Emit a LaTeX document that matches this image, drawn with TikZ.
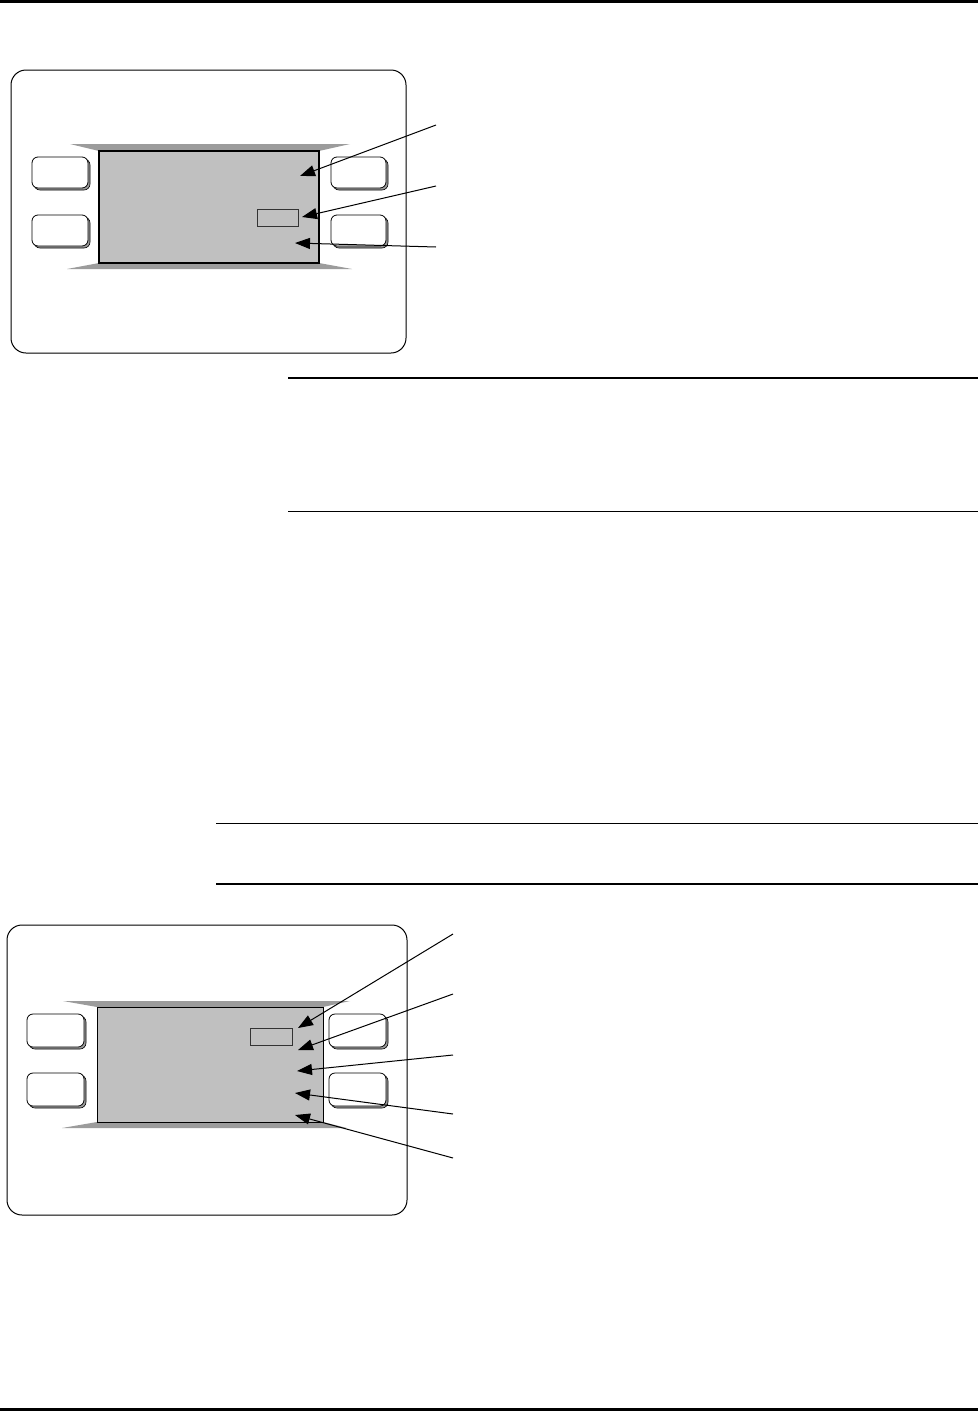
\documentclass[tikz,border=0pt]{standalone}
\usepackage{xcolor}
\usepackage{tikz}
\usetikzlibrary{shapes,arrows.meta,positioning,shadows}
\definecolor{lcdgray}{HTML}{C0C0C0}
\definecolor{bezelgray}{HTML}{9C9C9C}
\tikzset{
    panel/.style = {rectangle, rounded corners=15pt, draw=black, line width=1pt, fill=white},
    screen/.style = {rectangle, draw=black, fill=lcdgray, line width=1.6pt, inner sep=0pt},
    field/.style = {rectangle, draw=black!80, fill=lcdgray, line width=0.8pt, inner sep=0pt},
    softkey/.style = {rectangle, rounded corners=6pt, draw=black, fill=white, line width=0.8pt, inner sep=0pt,
        drop shadow={fill=bezelgray, draw=black, line width=0.6pt, shadow xshift=2pt, shadow yshift=-2pt, opacity=1}},
    bezel/.style = {fill=bezelgray},
    rule/.style = {draw=black, line width=1.5pt},
    callout/.style = {draw=black, line width=1pt, -{Triangle[length=15pt,width=11pt]}}
}
\begin{document}
\begin{tikzpicture}[x=1pt, y=-1pt]
    \useasboundingbox (0,0) rectangle (978,1411);

    % Page rules
    \draw [line width=3pt] (0,1.5) -- (978,1.5);
    \draw [line width=3pt] (0,1409.5) -- (978,1409.5);
    \draw [rule, line width=2pt] (288,378) -- (978,378);
    \draw [rule] (288,511.5) -- (978,511.5);
    \draw [rule] (216,823.5) -- (978,823.5);
    \draw [rule] (216,884) -- (978,884);

    % First display
    \node [panel, minimum width=395pt, minimum height=283pt] (panelA) at (208.5,211.5) {};
    \fill [bezel] (70,144) -- (350,144) -- (319,151) -- (99,151) -- cycle;
    \fill [bezel] (99,263) -- (319,263) -- (352,269) -- (67,269) -- cycle;
    \node [screen, minimum width=220pt, minimum height=112pt] (screenA) at (209,207) {};
    \node [field, minimum width=41pt, minimum height=17pt] (fieldA) at (277.5,217.5) {};
    \node [softkey, minimum width=56pt, minimum height=31pt] (keyAtl) at (60,172.5) {};
    \node [softkey, minimum width=56pt, minimum height=31pt] (keyAbl) at (60,230.5) {};
    \node [softkey, minimum width=55pt, minimum height=31pt] (keyAtr) at (358.5,172.5) {};
    \node [softkey, minimum width=55pt, minimum height=31pt] (keyAbr) at (358.5,230.5) {};

    \coordinate (calA1) at (436,125);
    \coordinate (calA2) at (436,186);
    \coordinate (calA3) at (436,247);
    \coordinate (tipA1) at (300,176);
    \coordinate (tipA2) at (302,217);
    \coordinate (tipA3) at (295,243);
    \draw [callout] (calA1) -- (tipA1);
    \draw [callout] (calA2) -- (tipA2);
    \draw [callout] (calA3) -- (tipA3);

    % Second display
    \node [panel, minimum width=400pt, minimum height=290pt] (panelB) at (207,1070) {};
    \fill [bezel] (63,1001) -- (350,1001) -- (323,1007) -- (97,1007) -- cycle;
    \fill [bezel] (97,1122) -- (323,1122) -- (347,1128) -- (62,1128) -- cycle;
    \node [screen, line width=1pt, minimum width=226pt, minimum height=115pt] (screenB) at (210,1064.5) {};
    \node [field, minimum width=42pt, minimum height=17pt] (fieldB) at (271,1036.5) {};
    \node [softkey, minimum width=57pt, minimum height=33pt] (keyBtl) at (55.5,1030.5) {};
    \node [softkey, minimum width=57pt, minimum height=33pt] (keyBbl) at (55.5,1089.5) {};
    \node [softkey, minimum width=57pt, minimum height=33pt] (keyBtr) at (357.5,1030.5) {};
    \node [softkey, minimum width=57pt, minimum height=33pt] (keyBbr) at (357.5,1089.5) {};

    \coordinate (calB1) at (453,934);
    \coordinate (calB2) at (453,994);
    \coordinate (calB3) at (453,1055);
    \coordinate (calB4) at (453,1114);
    \coordinate (calB5) at (453,1158);
    \coordinate (tipB1) at (298,1028);
    \coordinate (tipB2) at (298,1050);
    \coordinate (tipB3) at (297,1071);
    \coordinate (tipB4) at (295,1093);
    \coordinate (tipB5) at (295,1115);
    \foreach \i in {1,...,5}
        \draw [callout] (calB\i) -- (tipB\i);
\end{tikzpicture}
\end{document}
